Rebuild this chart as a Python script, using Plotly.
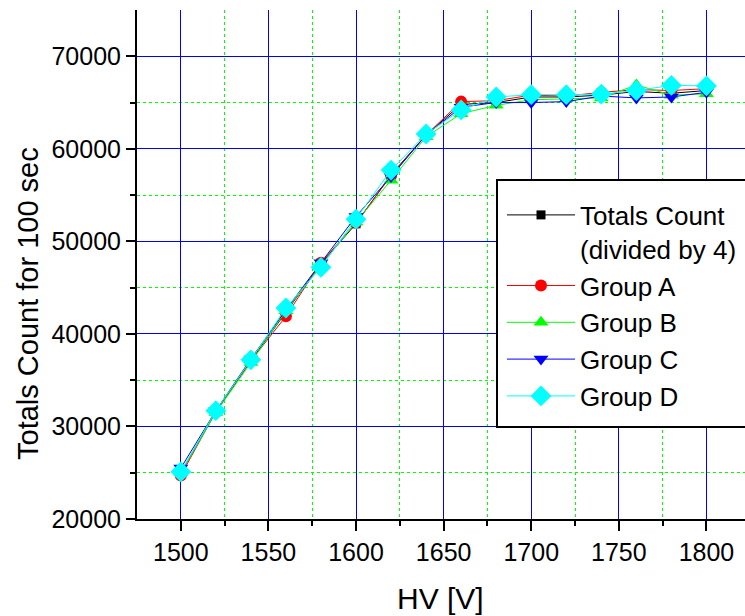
import plotly.graph_objects as go

hv = [1500, 1520, 1540, 1560, 1580, 1600, 1620, 1640, 1660, 1680, 1700, 1720, 1740, 1760, 1780, 1800]

totals_div4 = [25000, 31600, 37100, 42300, 47600, 51900, 57200, 61500, 64800, 65000, 65600, 65600, 65800, 66200, 66000, 66300]
group_a = [24700, 31600, 37100, 41900, 47700, 52000, 57100, 61500, 65100, 65200, 65800, 65700, 66100, 66400, 66300, 66500]
group_b = [25000, 31500, 36900, 42500, 47400, 52100, 56600, 61300, 63800, 64700, 65300, 65400, 65500, 66900, 65800, 65950]
group_c = [25500, 31700, 37300, 42600, 47700, 52700, 57000, 61500, 64500, 65000, 65000, 65100, 65700, 65500, 65600, 66100]
group_d = [25100, 31700, 37200, 42800, 47200, 52400, 57700, 61600, 64200, 65600, 65850, 65850, 65900, 66300, 66850, 66800]

x_major = [1500, 1550, 1600, 1650, 1700, 1750, 1800]
x_minor = [1525, 1575, 1625, 1675, 1725, 1775]
y_major = [20000, 30000, 40000, 50000, 60000, 70000]
y_minor = [25000, 35000, 45000, 55000, 65000]

series = [
    ("Totals Count<br>(divided by 4)", totals_div4, "#000000", "square", 9),
    ("Group A", group_a, "#FF0000", "circle", 12),
    ("Group B", group_b, "#00FF00", "triangle-up", 13),
    ("Group C", group_c, "#0000FF", "triangle-down", 13),
    ("Group D", group_d, "#00FFFF", "diamond", 16),
]

x_title = "HV [V]"
y_title = "Totals Count for 100 sec"

fig = go.Figure()
for i, (name, vals, col, sym, sz) in enumerate(series):
    fig.add_trace(go.Scatter(
        x=hv, y=vals, name=name, mode="lines+markers",
        line=dict(color=col, width=1),
        marker=dict(symbol=sym, size=sz, color=col, line=dict(width=0)),
        legendgroup=f"g{i}",
    ))

font = "Liberation Sans, Arial, sans-serif"
XR = [1475, 1822]
YR = [20000, 75000]
L, T, B = 137, 10, 97
PW, PH = 745 - L, 616 - T - B


def px(xp):
    return (xp - L) / PW


def py(yp):
    return 1 - (yp - T) / PH


fig.update_layout(
    width=745, height=616,
    margin=dict(l=L, r=0, t=T, b=B),
    paper_bgcolor="white", plot_bgcolor="white",
    font=dict(family=font, color="black", size=25),
    showlegend=True,
    legend=dict(
        x=px(502), y=py(185),
        xanchor="left", yanchor="top",
        bgcolor="rgba(0,0,0,0)", borderwidth=0,
        font=dict(family=font, size=26, color="black"),
        tracegroupgap=0, itemwidth=68, valign="top",
        title=dict(text=" ", font=dict(size=5)),
    ),
    xaxis=dict(
        range=XR, tickmode="array", tickvals=x_major, ticktext=[str(v) for v in x_major],
        showline=True, linecolor="black", linewidth=2,
        ticks="outside", ticklen=10, tickwidth=2, tickcolor="black",
        showgrid=True, gridcolor="#0000FF", gridwidth=1,
        zeroline=False, automargin=False,
        minor=dict(tickmode="array", tickvals=x_minor, ticks="outside", ticklen=5, tickwidth=2,
                   tickcolor="black", showgrid=True, gridcolor="#00FF00", griddash="dot", gridwidth=1),
        tickfont=dict(size=25),
    ),
    xaxis2=dict(
        range=XR, overlaying="x", side="top", anchor="y",
        tickmode="array", tickvals=x_major, showticklabels=False,
        showline=True, linecolor="black", linewidth=2,
        ticks="inside", ticklen=10, tickwidth=2, tickcolor="black",
        showgrid=False, zeroline=False, automargin=False,
        minor=dict(tickmode="array", tickvals=x_minor, ticks="inside", ticklen=6, tickwidth=2,
                   tickcolor="black", showgrid=False),
    ),
    yaxis=dict(
        range=YR, tickmode="array", tickvals=y_major, ticktext=[str(v) for v in y_major],
        showline=True, linecolor="black", linewidth=2,
        ticks="outside", ticklen=9, tickwidth=2, tickcolor="black",
        showgrid=True, gridcolor="#0000FF", gridwidth=1,
        zeroline=False, automargin=False,
        minor=dict(tickmode="array", tickvals=y_minor, ticks="outside", ticklen=5, tickwidth=2,
                   tickcolor="black", showgrid=True, gridcolor="#00FF00", griddash="dot", gridwidth=1),
        tickfont=dict(size=25),
    ),
    shapes=[
        dict(type="rect", xref="paper", yref="paper", layer="above",
             x0=px(497), x1=px(770), y0=py(427), y1=py(180),
             fillcolor="white", line=dict(color="black", width=2)),
    ],
    annotations=[
        dict(text=x_title, xref="paper", yref="paper",
             x=px(440), y=py(598),
             xanchor="center", yanchor="middle", showarrow=False,
             font=dict(size=30, family=font)),
        dict(text=y_title, xref="paper", yref="paper",
             x=px(28), y=py(304),
             xanchor="center", yanchor="middle", showarrow=False, textangle=-90,
             font=dict(size=29, family=font)),
    ],
)

fig.write_html("out.html", config={"displayModeBar": False},
               post_script="document.body.style.margin='0px';")
